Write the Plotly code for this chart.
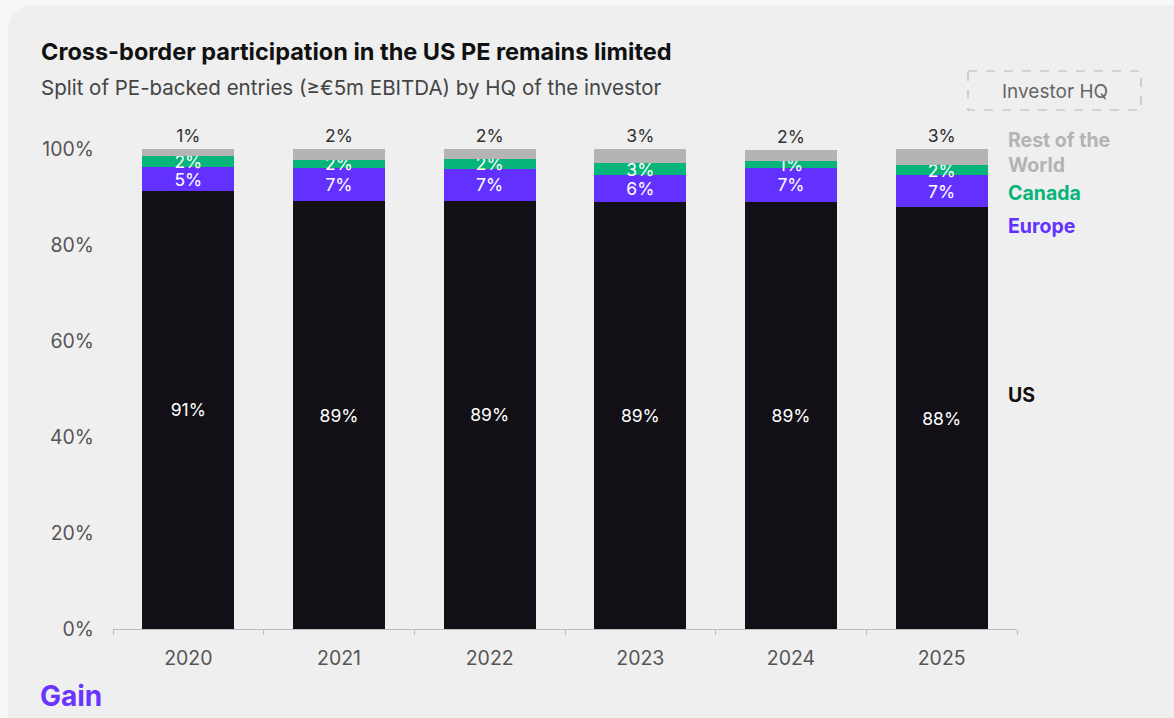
import plotly.graph_objects as go

# Share of PE-backed entries by investor HQ (%)
years = ["2020", "2021", "2022", "2023", "2024", "2025"]
us = [91.3, 89.1, 89.2, 88.9, 89.0, 87.9]
europe = [4.9, 6.9, 6.7, 5.6, 7.1, 6.6]
canada = [2.3, 1.8, 2.1, 2.5, 1.3, 2.1]
rest_of_world = [1.4, 2.2, 2.0, 3.0, 2.4, 3.4]

y_ticks = [0, 20, 40, 60, 80, 100]
y_tick_labels = ["0%", "20%", "40%", "60%", "80%", "100%"]

W, H = 1174, 718
L, R, T, B = 113, 157, 149, 89
PW, PH = W - L - R, H - T - B

C_US = "#121016"
C_EU = "#6331ff"
C_CA = "#07b57a"
C_ROW = "#b4b4b5"
FONT = "Inter"


def px(x):
    return (x - L) / PW


def py(y):
    return (H - B - y) / PH


fig = go.Figure()

inside_font = dict(family=FONT, size=17.5, color="white")
common = dict(textposition="inside", insidetextanchor="middle", textangle=0,
              constraintext="none", texttemplate="%{y:.0f}%",
              insidetextfont=inside_font, hoverinfo="skip", cliponaxis=False)

fig.add_trace(go.Bar(x=years, y=us, name="US", marker=dict(color=C_US, line=dict(width=0)), **common))
fig.add_trace(go.Bar(x=years, y=europe, name="Europe", marker=dict(color=C_EU, line=dict(width=0)), **common))
fig.add_trace(go.Bar(x=years, y=canada, name="Canada", marker=dict(color=C_CA, line=dict(width=0)), **common))
fig.add_trace(go.Bar(
    x=years, y=rest_of_world, name="Rest of the World",
    marker=dict(color=C_ROW, line=dict(width=0)),
    textposition="outside", texttemplate="%{y:.0f}%", textangle=0,
    constraintext="none",
    outsidetextfont=dict(family=FONT, size=17.5, color="#333333"),
    hoverinfo="skip", cliponaxis=False,
))

# Card background with rounded corners
r = 28
x0, y0, x1, y1 = 8, 5, W + 40, H + 40
card = (f"M {px(x0)} {py(y0 + r)} Q {px(x0)} {py(y0)} {px(x0 + r)} {py(y0)} "
        f"L {px(x1)} {py(y0)} L {px(x1)} {py(y1)} L {px(x0 + r)} {py(y1)} "
        f"Q {px(x0)} {py(y1)} {px(x0)} {py(y1 - r)} Z")

shapes = [
    dict(type="path", path=card, xref="paper", yref="paper",
         fillcolor="#efefef", line=dict(width=0), layer="below"),
    dict(type="rect", xref="paper", yref="paper",
         x0=px(968), x1=px(1141), y0=py(71), y1=py(110),
         line=dict(color="#b8b8b8", width=1.2, dash="dash"), fillcolor="rgba(0,0,0,0)"),
]

annotations = [
    dict(text="<b>Cross-border participation in the US PE remains limited</b>",
         x=px(39), y=py(52), xanchor="left", yanchor="middle",
         font=dict(family=FONT, size=23.5, color="#111111")),
    dict(text="Split of PE-backed entries (≥€5m EBITDA) by HQ of the investor",
         x=px(39), y=py(87), xanchor="left", yanchor="middle",
         font=dict(family=FONT, size=20.5, color="#444444")),
    dict(text="Investor HQ", x=px(1055), y=py(91), xanchor="center", yanchor="middle",
         font=dict(family=FONT, size=19, color="#666666")),
    dict(text="<b>Rest of the<br>World</b>", x=px(1006), y=py(152), xanchor="left",
         yanchor="middle", align="left",
         font=dict(family=FONT, size=19.5, color=C_ROW)),
    dict(text="<b>Canada</b>", x=px(1006), y=py(193), xanchor="left", yanchor="middle",
         font=dict(family=FONT, size=19.5, color=C_CA)),
    dict(text="<b>Europe</b>", x=px(1006), y=py(226), xanchor="left", yanchor="middle",
         font=dict(family=FONT, size=19.5, color=C_EU)),
    dict(text="<b>US</b>", x=px(1006), y=py(395), xanchor="left", yanchor="middle",
         font=dict(family=FONT, size=19.5, color="#111111")),
    dict(text="<b>Gain</b>", x=px(38), y=py(696), xanchor="left", yanchor="middle",
         font=dict(family=FONT, size=28, color="#6a35ff")),
]
for a in annotations:
    a.setdefault("xref", "paper")
    a.setdefault("yref", "paper")
    a["showarrow"] = False

fig.update_layout(
    width=W, height=H,
    margin=dict(l=L, r=R, t=T, b=B, pad=0),
    paper_bgcolor="#f6f7f7",
    plot_bgcolor="rgba(0,0,0,0)",
    barmode="stack",
    bargap=0.39,
    showlegend=False,
    shapes=shapes,
    annotations=annotations,
    xaxis=dict(
        type="category", showgrid=False, zeroline=False,
        showline=True, linecolor="#bdbdbd", linewidth=1,
        ticks="outside", tickson="boundaries", ticklen=5, tickcolor="#bdbdbd",
        ticklabelstandoff=12,
        tickfont=dict(family=FONT, size=19.5, color="#555555"),
        fixedrange=True,
    ),
    yaxis=dict(
        range=[0, 100], tickmode="array", tickvals=y_ticks, ticktext=y_tick_labels,
        showgrid=False, zeroline=False, showline=False,
        ticklabelstandoff=18,
        tickfont=dict(family=FONT, size=19.5, color="#555555"),
        fixedrange=True,
    ),
)

fig.write_html("out.html")
